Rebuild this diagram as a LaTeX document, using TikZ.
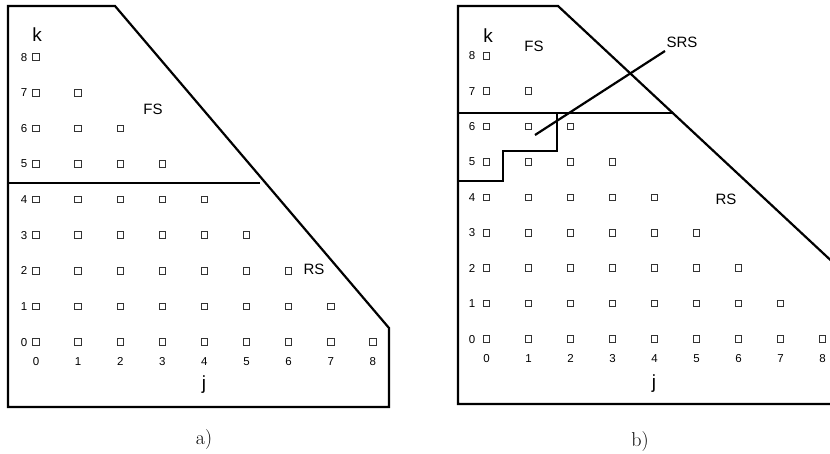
\documentclass[tikz,border=0pt]{standalone}
\usepackage{fontspec}
\setsansfont{Liberation Sans}
\begin{document}
\begin{tikzpicture}[x=1pt,y=-1pt,
  pt/.style={draw=black!80, line width=0.9pt, minimum size=6.5pt, inner sep=0pt},
  num/.style={font=\sffamily\fontsize{11.5}{13}\selectfont, anchor=base, inner sep=0pt},
  lab/.style={font=\sffamily\fontsize{15}{17}\selectfont, anchor=base, inner sep=0pt},
  axis/.style={font=\sffamily\fontsize{19}{22}\selectfont, anchor=base, inner sep=0pt},
  captext/.style={font=\rmfamily\fontsize{20}{24}\selectfont, anchor=base, inner sep=0pt},
  border/.style={line width=2.2pt, line join=miter}]
\useasboundingbox (0,0) rectangle (830,454);
\clip (0,0) rectangle (830,454);
% ---------- panel a ----------
\draw[border] (8,6) -- (115,6) -- (389,328) -- (389,407) -- (8,407) -- cycle;
\coordinate (aL) at (8,183);
\coordinate (aR) at (260,183);
\draw[border] (aL) -- (aR);
\foreach \k in {0,...,8}{
  \pgfmathtruncatemacro\jmax{8-\k}
  \foreach \j in {0,...,\jmax}{
    \node[pt] (a-\j-\k) at ({36+42.1*\j},{342-35.6*\k}) {};
  }
  \node[num] (arow\k) at (24,{346-35.6*\k}) {\k};
}
\foreach \j in {0,...,8}{
  \node[num] (acol\j) at ({36+42.1*\j},366) {\j};
}
\node[axis] (ak) at (37,42) {k};
\node[axis] (aj) at (204,389) {j};
\node[lab] (aFS) at (153,115) {FS};
\node[lab] (aRS) at (314,275) {RS};
\node[captext] (acap) at (204,444) {a)};
% ---------- panel b ----------
\draw[border] (458,6) -- (558,6) -- (839,268) -- (839,404) -- (458,404) -- cycle;
\coordinate (bL) at (458,113);
\coordinate (bR) at (672,113);
\draw[border] (bL) -- (bR);
\coordinate (s0) at (458,181);
\coordinate (s1) at (503,181);
\coordinate (s2) at (503,151);
\coordinate (s3) at (557,151);
\coordinate (s4) at (557,113);
\draw[border] (s0) -- (s1) -- (s2) -- (s3) -- (s4);
\foreach \k in {0,...,8}{
  \pgfmathtruncatemacro\jmax{8-\k}
  \foreach \j in {0,...,\jmax}{
    \node[pt] (b-\j-\k) at ({486.5+42*\j},{339-35.4*\k}) {};
  }
  \node[num] (brow\k) at (472,{343-35.4*\k}) {\k};
}
\foreach \j in {0,...,8}{
  \node[num] (bcol\j) at ({486.5+42*\j},362) {\j};
}
\node[axis] (bk) at (488,43) {k};
\node[axis] (bj) at (654,388) {j};
\node[lab] (bFS) at (534,52) {FS};
\node[lab] (bRS) at (726,205) {RS};
\node[lab] (bSRS) at (682,48) {SRS};
\coordinate (srs0) at (535,135);
\coordinate (srs1) at (665,51);
\draw[border] (srs0) -- (srs1);
\node[captext] (bcap) at (640,446) {b)};
\end{tikzpicture}
\end{document}
